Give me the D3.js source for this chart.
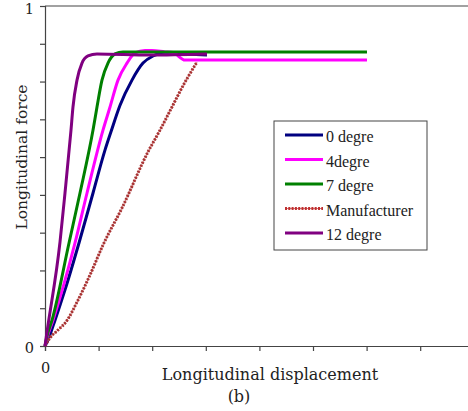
<!DOCTYPE html>
<html><head><meta charset="utf-8">
<script src="https://cdn.jsdelivr.net/npm/d3@7"></script>
<style>body{margin:0;background:#fff}svg{display:block}</style>
</head><body>
<svg id="c" width="468" height="411"></svg>
<script>
const seriesNames = ["0 degre","4degre","7 degre","Manufacturer","12 degre"];
const seriesColors = ["#000080","#ff00ff","#008000","#a83232","#800080"];
const deg0 = [[0,0],[0.056,0.018],[0.187,0.076],[0.373,0.165],[0.634,0.303],[0.896,0.450],[1.119,0.576],[1.231,0.630],[1.400,0.708],[1.623,0.782],[1.828,0.832],[2.015,0.853],[2.201,0.862],[2.612,0.859],[3.022,0.856]];
const deg4 = [[0,0],[0.037,0.024],[0.149,0.076],[0.560,0.303],[0.784,0.450],[1.082,0.635],[1.213,0.703],[1.362,0.782],[1.530,0.832],[1.679,0.862],[1.866,0.869],[1.996,0.869],[2.239,0.865],[2.388,0.863],[2.612,0.841],[6.007,0.841]];
const deg7 = [[0,0],[0.037,0.029],[0.131,0.076],[0.448,0.303],[0.653,0.450],[0.896,0.635],[0.970,0.703],[1.063,0.782],[1.175,0.832],[1.306,0.859],[1.455,0.865],[6.007,0.865]];
const manufacturer = [[0,0],[0.093,0.024],[0.243,0.047],[0.392,0.071],[0.616,0.135],[0.840,0.209],[1.082,0.297],[1.437,0.406],[1.922,0.571],[2.146,0.635],[2.369,0.703],[2.612,0.776],[2.836,0.835]];
const deg12 = [[0,0],[0.037,0.041],[0.280,0.306],[0.373,0.450],[0.485,0.635],[0.522,0.703],[0.597,0.782],[0.690,0.832],[0.802,0.853],[0.970,0.859],[1.959,0.856],[3.022,0.859]];
const seriesData = [deg0, deg4, deg7, manufacturer, deg12];
const xTicks = [0,1,2,3,4,5,6,7,8];
const yTicks = [0,1/9,2/9,3/9,4/9,5/9,6/9,7/9,8/9,1];

const svg = d3.select("#c");
const x = d3.scaleLinear().domain([0,8]).range([45, 45+8*53.6]);
const y = d3.scaleLinear().domain([0,1]).range([346, 6]);
const font = "'DejaVu Serif', serif";
const axisCol = "#444";
const textCol = "#222";

// top border
svg.append("line").attr("x1", x(0)).attr("x2", 468).attr("y1", y(1)).attr("y2", y(1))
  .attr("stroke", axisCol).attr("stroke-width", 1.2);

const gx = svg.append("g").attr("transform", `translate(0,${y(0)})`)
  .call(d3.axisBottom(x).tickValues(xTicks).tickSize(5).tickPadding(12).tickFormat(d => d===0 ? "0" : ""));
const gy = svg.append("g").attr("transform", `translate(${x(0)},0)`)
  .call(d3.axisLeft(y).tickValues(yTicks).tickSize(5).tickPadding(6).tickFormat(d => d===0 ? "0" : (d===1 ? "1" : "")));
[gx, gy].forEach(g => {
  g.select(".domain").attr("stroke", axisCol).attr("stroke-width", 1.2);
  g.selectAll(".tick line").attr("stroke", axisCol).attr("stroke-width", 1.2);
  g.selectAll("text").attr("font-family", font).attr("font-size", 14.5).attr("fill", textCol);
});
gy.selectAll("text").attr("dy", d => d===1 ? "0.55em" : "0.42em");

const line = d3.line().x(d => x(d[0])).y(d => y(d[1])).curve(d3.curveMonotoneX);
seriesData.forEach((data, i) => {
  if (seriesNames[i] === "Manufacturer") {
    svg.append("path").datum(data).attr("d", line).attr("fill", "none")
      .attr("stroke", "#c87070").attr("stroke-width", 1);
    svg.append("path").datum(data).attr("d", line).attr("fill", "none")
      .attr("stroke", seriesColors[i]).attr("stroke-width", 3).attr("stroke-dasharray", "2 1.3");
  } else {
    svg.append("path").datum(data).attr("d", line).attr("fill", "none")
      .attr("stroke", seriesColors[i]).attr("stroke-width", 3).attr("stroke-linejoin", "round");
  }
});

// axis titles
svg.append("text").attr("x", 270).attr("y", 380).attr("text-anchor", "middle")
  .attr("font-family", font).attr("font-size", 16).attr("fill", textCol).text("Longitudinal displacement");
svg.append("text").attr("transform", "translate(27,157) rotate(-90)").attr("text-anchor", "middle")
  .attr("font-family", font).attr("font-size", 15.5).attr("fill", textCol).text("Longitudinal force");
svg.append("text").attr("x", 239).attr("y", 402).attr("text-anchor", "middle")
  .attr("font-family", font).attr("font-size", 16).attr("fill", textCol).text("(b)");

// legend
const lg = svg.append("g");
lg.append("rect").attr("x", 274).attr("y", 121).attr("width", 153).attr("height", 129)
  .attr("fill", "#fff").attr("stroke", "#444").attr("stroke-width", 1);
seriesNames.forEach((n, i) => {
  const yy = 135 + i*24.5;
  if (n === "Manufacturer") {
    lg.append("line").attr("x1", 285).attr("x2", 323).attr("y1", yy).attr("y2", yy)
      .attr("stroke", "#d07070").attr("stroke-width", 1);
    lg.append("line").attr("x1", 285).attr("x2", 323).attr("y1", yy).attr("y2", yy)
      .attr("stroke", "#c03030").attr("stroke-width", 3).attr("stroke-dasharray", "2 1.3");
  } else {
    lg.append("line").attr("x1", 285).attr("x2", 323).attr("y1", yy).attr("y2", yy)
      .attr("stroke", seriesColors[i]).attr("stroke-width", 3);
  }
  lg.append("text").attr("x", 326).attr("y", yy+7).attr("font-family", "'Liberation Serif', serif")
    .attr("font-size", 16).attr("fill", textCol).text(n);
});
</script>
</body></html>
